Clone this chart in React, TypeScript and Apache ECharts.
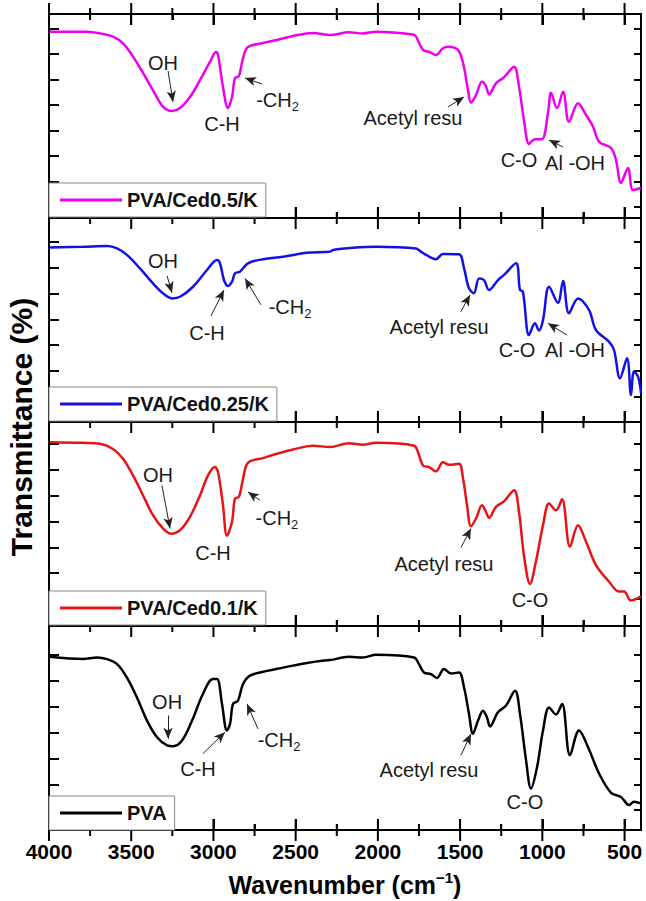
import React, { useEffect, useRef } from 'react';
import * as echarts from 'echarts';

// ---------------- DATA ----------------
const xMax = 4000;
const xMin = 400;
const xMajorStep = 500;
const xTicksMajor = [4000, 3500, 3000, 2500, 2000, 1500, 1000, 500];
const xTicksMinor = [3750, 3250, 2750, 2250, 1750, 1250, 750];

const seriesNames = ['PVA/Ced0.5/K', 'PVA/Ced0.25/K', 'PVA/Ced0.1/K', 'PVA'];

const ced05: number[][] = [
  [3994, 91.3], [3771, 91.3], [3690, 90.5], [3611, 88.9], [3550, 85.6], [3489, 79.1], [3428, 71.1],
  [3368, 62.7], [3307, 54.6], [3252, 52.5], [3203, 53.9], [3143, 59.3], [3082, 67.6], [3021, 76.5],
  [2984, 81.4], [2972, 79.9], [2942, 64.2], [2912, 53.9], [2887, 59.3], [2869, 68.6], [2845, 69.6],
  [2820, 78.4], [2790, 83.8], [2699, 85.8], [2614, 87.3], [2516, 89.2], [2395, 90.7], [2291, 89.7],
  [2176, 91.0], [2091, 90.5], [2011, 91.3], [1787, 90.0], [1768, 88.9], [1726, 82.4], [1689, 81.5],
  [1647, 79.9], [1604, 83.2], [1574, 84.0], [1513, 82.4], [1482, 76.0], [1452, 62.7], [1434, 56.5],
  [1403, 60.3], [1367, 66.8], [1343, 64.7], [1324, 60.6], [1282, 66.0], [1233, 69.0], [1172, 74.2],
  [1142, 64.4], [1112, 48.0], [1081, 36.3], [1060, 38.0], [1039, 38.6], [1002, 38.6], [966, 51.3],
  [947, 61.4], [911, 53.9], [874, 61.9], [838, 47.2], [783, 56.2], [734, 50.5], [692, 44.8],
  [655, 37.4], [582, 34.3], [552, 28.4], [522, 17.2], [479, 24.5], [449, 13.7], [400, 14.7],
];

const ced025: number[][] = [
  [3994, 85.6], [3793, 85.9], [3647, 86.3], [3586, 85.1], [3526, 81.9], [3447, 75.3], [3368, 68.0],
  [3307, 63.1], [3252, 60.6], [3203, 61.4], [3124, 66.3], [3039, 74.5], [2978, 79.4], [2960, 77.8],
  [2936, 69.6], [2912, 66.7], [2887, 68.8], [2869, 72.9], [2839, 73.7], [2790, 77.8], [2699, 79.8],
  [2577, 81.0], [2431, 83.0], [2291, 83.5], [2273, 84.3], [2151, 85.4], [2011, 85.9], [1768, 85.1],
  [1738, 83.5], [1707, 81.9], [1647, 79.8], [1604, 82.4], [1507, 82.2], [1476, 75.3], [1446, 65.5],
  [1416, 63.1], [1385, 70.4], [1355, 69.6], [1324, 64.7], [1270, 69.6], [1233, 72.1], [1160, 77.8],
  [1136, 64.7], [1118, 63.9], [1081, 42.6], [1045, 48.4], [1020, 44.8], [996, 50.0], [959, 66.3],
  [905, 58.5], [874, 69.1], [838, 53.3], [783, 60.6], [716, 54.9], [674, 45.1], [595, 39.4],
  [564, 35.3], [528, 21.4], [485, 31.2], [461, 13.2], [443, 24.7], [418, 22.2], [400, 14.1],
];

const ced01: number[][] = [
  [3994, 90.1], [3793, 89.8], [3690, 89.3], [3611, 86.8], [3550, 82.0], [3489, 73.8], [3428, 64.0],
  [3368, 54.3], [3307, 47.8], [3258, 45.2], [3203, 47.0], [3143, 53.5], [3082, 64.0], [3033, 73.8],
  [2991, 77.9], [2972, 75.5], [2942, 59.2], [2918, 44.2], [2887, 51.1], [2869, 62.4], [2845, 63.3],
  [2820, 72.2], [2790, 80.0], [2699, 82.3], [2614, 84.4], [2516, 86.5], [2395, 88.4], [2291, 87.7],
  [2176, 89.6], [2091, 88.9], [2011, 89.8], [1780, 88.4], [1756, 85.2], [1726, 78.7], [1689, 77.9],
  [1647, 75.8], [1604, 80.3], [1568, 79.0], [1507, 79.5], [1482, 72.2], [1458, 59.2], [1434, 48.9],
  [1403, 52.7], [1367, 59.2], [1343, 56.0], [1324, 53.0], [1282, 58.4], [1233, 61.1], [1172, 66.5],
  [1142, 56.0], [1112, 34.8], [1075, 20.6], [1039, 31.6], [996, 49.4], [959, 60.0], [917, 56.7],
  [880, 62.1], [832, 38.9], [783, 49.4], [734, 41.3], [674, 29.9], [595, 21.8], [534, 16.9],
  [503, 16.9], [461, 12.5], [400, 14.5],
];

const pva: number[][] = [
  [3994, 85.3], [3793, 84.2], [3708, 85.0], [3647, 84.2], [3586, 81.7], [3526, 75.1], [3465, 65.3],
  [3404, 53.9], [3343, 45.7], [3282, 41.7], [3246, 41.3], [3191, 44.1], [3130, 53.9], [3064, 67.0],
  [3003, 74.4], [2978, 74.4], [2948, 62.1], [2918, 49.0], [2899, 52.3], [2881, 62.1], [2851, 63.7],
  [2820, 71.9], [2778, 76.0], [2674, 78.4], [2577, 80.0], [2474, 81.7], [2352, 83.3], [2291, 83.7],
  [2176, 85.3], [2091, 85.0], [2011, 86.3], [1780, 85.0], [1750, 81.7], [1720, 77.6], [1677, 76.8],
  [1641, 74.9], [1598, 79.3], [1555, 77.1], [1507, 77.6], [1476, 70.2], [1446, 57.2], [1422, 47.4],
  [1391, 53.9], [1361, 58.8], [1337, 55.5], [1318, 51.0], [1270, 58.0], [1221, 61.3], [1166, 68.6],
  [1136, 57.2], [1099, 34.3], [1069, 20.4], [1032, 31.0], [996, 49.0], [959, 60.4], [917, 56.9],
  [880, 62.1], [832, 36.8], [777, 49.0], [722, 40.8], [655, 27.8], [582, 18.3], [522, 16.3],
  [473, 12.3], [443, 13.9], [400, 13.1],
];

const yTicks05 = [5.4, 17.9, 30.4, 42.9, 55.4, 67.9, 80.4, 92.9];
const yTicks025 = [12.3, 25.0, 37.7, 50.3, 63.0, 75.7, 88.3];
const yTicks01 = [13.2, 25.9, 38.5, 51.2, 63.9, 76.6, 89.3];
const yTicksPva = [9.8, 22.5, 35.3, 48.0, 60.8, 73.5, 86.3];

const notes05: [string, number, number][] = [
  ['OH', 3307, 76.0], ['C-H', 2948, 46.1], ['-CH{s|2}', 2610, 57.8],
  ['Acetyl resu', 1787, 49.0], ['C-O', 1142, 28.4], ['Al -OH', 801, 27.0],
];
const notes025: [string, number, number][] = [
  ['OH', 3307, 79.1], ['C-H', 3039, 43.5], ['-CH{s|2}', 2534, 56.5],
  ['Acetyl resu', 1628, 46.4], ['C-O', 1154, 35.3], ['Al -OH', 801, 35.3],
];
const notes01: [string, number, number][] = [
  ['OH', 3337, 73.8], ['C-H', 3003, 35.6], ['-CH{s|2}', 2614, 52.7],
  ['Acetyl resu', 1598, 30.2], ['C-O', 1075, 12.8],
];
const notesPva: [string, number, number][] = [
  ['OH', 3282, 62.9], ['C-H', 3094, 30.2], ['-CH{s|2}', 2601, 44.1],
  ['Acetyl resu', 1689, 29.8], ['C-O', 1106, 13.9],
];

const arrows05: number[][][] = [
  [[3276, 72.1], [3246, 56.9]], [[2705, 65.7], [2808, 68.6]],
  [[1574, 54.4], [1476, 59.3]], [[874, 34.8], [959, 38.2]],
];
const arrows025: number[][][] = [
  [[3282, 71.6], [3252, 63.4]], [[3015, 52.0], [2936, 64.7]], [[2711, 57.4], [2808, 70.4]],
  [[1495, 54.1], [1440, 62.3]], [[850, 42.6], [966, 48.4]],
];
const arrows01: number[][][] = [
  [[3313, 68.9], [3264, 47.8]], [[2717, 61.6], [2790, 65.7]], [[1495, 38.4], [1434, 47.8]],
];
const arrowsPva: number[][][] = [
  [[3276, 56.4], [3276, 44.9]], [[3064, 37.6], [2930, 48.2]], [[2729, 49.8], [2796, 62.1]],
  [[1495, 36.8], [1434, 47.4]],
];

// ---------------- LAYOUT / STYLE ----------------
const FONT = '"Liberation Sans", Arial, Helvetica, sans-serif';
const GRID_TOPS = [14, 218, 422, 627];
const GRID_H = 204;
const LEFT = 49;
const WIDTH = 592;
const COLORS = ['#EE00EE', '#1212E6', '#E61414', '#000000'];
const Y_MIN = 0;
const Y_MAX = 100;

const panels = [
  { name: seriesNames[0], data: ced05, notes: notes05, arrows: arrows05, yTicks: yTicks05 },
  { name: seriesNames[1], data: ced025, notes: notes025, arrows: arrows025, yTicks: yTicks025 },
  { name: seriesNames[2], data: ced01, notes: notes01, arrows: arrows01, yTicks: yTicks01 },
  { name: seriesNames[3], data: pva, notes: notesPva, arrows: arrowsPva, yTicks: yTicksPva },
];

const toAxis = (pt: number[]) => [xMax - pt[0], pt[1]];

function buildOption() {
  const grid = GRID_TOPS.map((t) => ({ left: LEFT, top: t, width: WIDTH, height: GRID_H }));
  const xAxis: any[] = [];
  const yAxis: any[] = [];
  const series: any[] = [];

  const xAxisFor = (i: number, position: string, labels: boolean) => ({
    type: 'value', gridIndex: i, min: 0, max: xMax - xMin, interval: xMajorStep, position,
    axisLine: { show: true, onZero: false, lineStyle: { color: '#000', width: 2 } },
    axisTick: { show: true, inside: true, length: 11, lineStyle: { color: '#000', width: 2 } },
    minorTick: { show: true, splitNumber: 2, length: 6, lineStyle: { color: '#000', width: 2 } },
    axisLabel: {
      show: labels, fontSize: 21, fontWeight: 'bold', color: '#000', fontFamily: FONT, margin: 11,
      showMaxLabel: false, formatter: (v: number) => String(xMax - v),
    },
    splitLine: { show: false },
    minorSplitLine: { show: false },
  });

  panels.forEach((p, i) => {
    const isBottom = i === panels.length - 1;
    const xIdx = xAxis.length;
    const xa: any = xAxisFor(i, 'bottom', isBottom);
    if (isBottom) {
      xa.name = 'Wavenumber (cm{sup|−1})';
      xa.nameLocation = 'middle';
      xa.nameGap = 40;
      xa.nameTextStyle = {
        fontSize: 25, fontWeight: 'bold', color: '#000', fontFamily: FONT, lineHeight: 30,
        rich: { sup: { fontSize: 15, fontWeight: 'bold', fontFamily: FONT, color: '#000', verticalAlign: 'top', lineHeight: 14 } },
      };
    }
    xAxis.push(xa);
    if (i === 0) xAxis.push(xAxisFor(i, 'top', false));

    const leftIdx = yAxis.length;
    yAxis.push({
      type: 'value', gridIndex: i, min: Y_MIN, max: Y_MAX, position: 'left',
      axisLine: { show: true, onZero: false, lineStyle: { color: '#000', width: 2 } },
      axisTick: { show: true, inside: true, length: 10, customValues: p.yTicks, lineStyle: { color: '#000', width: 2 } },
      axisLabel: { show: false }, splitLine: { show: false },
    });
    yAxis.push({
      type: 'value', gridIndex: i, min: Y_MIN, max: Y_MAX, position: 'right',
      axisLine: { show: true, onZero: false, lineStyle: { color: '#000', width: 2 } },
      axisTick: { show: true, inside: true, length: 7, customValues: p.yTicks, lineStyle: { color: '#000', width: 2 } },
      axisLabel: { show: false }, splitLine: { show: false },
    });

    series.push({
      type: 'line', name: p.name, xAxisIndex: xIdx, yAxisIndex: leftIdx,
      data: p.data.map(toAxis), symbol: 'none', showSymbol: false, smooth: 0.35,
      lineStyle: { color: COLORS[i], width: 2.5 }, itemStyle: { color: COLORS[i] },
      z: 3,
      markLine: {
        silent: true, symbol: ['none', 'arrow'], symbolSize: [7, 11],
        label: { show: false },
        lineStyle: { color: '#222', width: 1, type: 'solid' },
        emphasis: { disabled: true },
        data: p.arrows.map((a) => [{ coord: toAxis(a[0]) }, { coord: toAxis(a[1]) }]),
      },
      markPoint: {
        silent: true, symbol: 'circle', symbolSize: 1,
        itemStyle: { color: 'rgba(0,0,0,0)' },
        label: {
          show: true, position: 'inside', formatter: '{b}', color: '#1a1a1a',
          fontSize: 20, fontFamily: FONT, lineHeight: 26,
          rich: { s: { fontSize: 13, fontFamily: FONT, color: '#1a1a1a', verticalAlign: 'bottom', lineHeight: 8 } },
        },
        emphasis: { disabled: true },
        data: p.notes.map((n) => ({ name: n[0], coord: toAxis([n[1], n[2]]) })),
      },
    });

    // x tick marks drawn as a vertical-bar scatter on the frame (major and minor)
    const tickData = (ticks: number[], yv: number) => ticks.map((w) => [xMax - w, yv]);
    series.push({
      type: 'scatter', xAxisIndex: xIdx, yAxisIndex: leftIdx, silent: true, clip: false, z: 20,
      symbol: 'rect', symbolSize: [2, 22], itemStyle: { color: '#000', opacity: 1 },
      data: tickData(xTicksMajor, Y_MIN),
    });
    series.push({
      type: 'scatter', xAxisIndex: xIdx, yAxisIndex: leftIdx, silent: true, clip: false, z: 20,
      symbol: 'rect', symbolSize: [2, 12], itemStyle: { color: '#000', opacity: 1 },
      data: tickData(xTicksMinor, Y_MIN),
    });
    if (i === 0) {
      series.push({
        type: 'scatter', xAxisIndex: xIdx, yAxisIndex: leftIdx, silent: true, clip: false, z: 20,
        symbol: 'rect', symbolSize: [2, 22], itemStyle: { color: '#000', opacity: 1 },
        data: tickData(xTicksMajor, Y_MAX),
      });
      series.push({
        type: 'scatter', xAxisIndex: xIdx, yAxisIndex: leftIdx, silent: true, clip: false, z: 20,
        symbol: 'rect', symbolSize: [2, 12], itemStyle: { color: '#000', opacity: 1 },
        data: tickData(xTicksMinor, Y_MAX),
      });
    }
  });

  const legend = panels.map((p, i) => ({
    data: [{ name: p.name, icon: 'rect' }], left: LEFT, top: GRID_TOPS[i] + GRID_H - 35, orient: 'horizontal',
    selectedMode: false, backgroundColor: '#fff', borderColor: '#8a8a8a', borderWidth: 1,
    padding: [7, 8, 7, 11], itemWidth: 62, itemHeight: 3, z: 30,
    textStyle: { fontSize: 20, fontWeight: 'bold', color: '#111', fontFamily: FONT, lineHeight: 20 },
  }));

  return {
    animation: false,
    backgroundColor: '#fff',
    textStyle: { fontFamily: FONT },
    grid, xAxis, yAxis, series, legend,
    graphic: [
      {
        type: 'text', x: 21, y: 427, rotation: Math.PI / 2, z: 40,
        style: {
          text: 'Transmittance (%)', fontSize: 30, fontWeight: 'bold', fontFamily: FONT,
          fill: '#000', align: 'center', verticalAlign: 'middle',
        },
      },
    ],
  };
}

export default function App() {
  const ref = useRef<HTMLDivElement>(null);
  useEffect(() => {
    const chart = echarts.init(ref.current as HTMLDivElement, null, { renderer: 'svg' });
    chart.setOption(buildOption() as any);
    return () => chart.dispose();
  }, []);
  return (
    <div
      ref={ref}
      style={{ position: 'fixed', left: 0, top: 0, width: 646, height: 901, background: '#fff' }}
    />
  );
}
